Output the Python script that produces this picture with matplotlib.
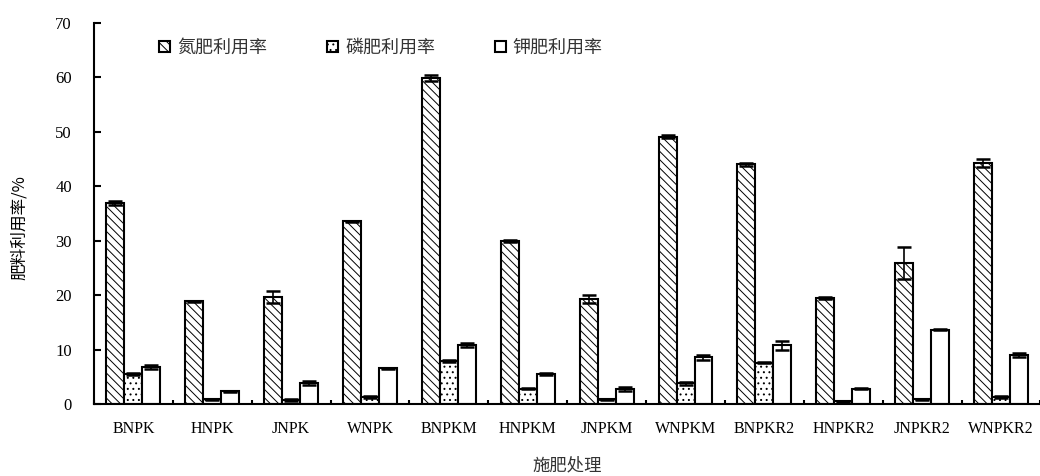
import matplotlib
matplotlib.use("Agg")
import matplotlib.pyplot as plt
import numpy as np

plt.rcParams['font.family'] = ['Noto Sans CJK SC', 'DejaVu Sans']
plt.rcParams['hatch.linewidth'] = 0.7
plt.rcParams['hatch.color'] = '#333333'

treatments = ['BNPK', 'HNPK', 'JNPK', 'WNPK', 'BNPKM', 'HNPKM', 'JNPKM',
              'WNPKM', 'BNPKR2', 'HNPKR2', 'JNPKR2', 'WNPKR2']

# utilisation rates (%) and their errors
n_rate = [36.9, 18.9, 19.7, 33.6, 59.9, 30.0, 19.3, 49.1, 44.0, 19.5, 25.9, 44.3]
n_err = [0.4, 0.1, 1.1, 0.1, 0.5, 0.2, 0.8, 0.3, 0.3, 0.2, 3.0, 0.7]
p_rate = [5.6, 0.9, 0.75, 1.3, 7.9, 2.8, 0.9, 3.8, 7.6, 0.55, 0.9, 1.3]
p_err = [0.2, 0.1, 0.2, 0.2, 0.2, 0.1, 0.1, 0.2, 0.1, 0.1, 0.1, 0.1]
k_rate = [6.8, 2.4, 3.9, 6.6, 10.8, 5.5, 2.8, 8.6, 10.8, 2.8, 13.7, 9.0]
k_err = [0.4, 0.1, 0.3, 0.1, 0.4, 0.2, 0.4, 0.5, 0.8, 0.1, 0.1, 0.3]

labels = ['氮肥利用率', '磷肥利用率', '钾肥利用率']

fig = plt.figure(figsize=(10.4, 4.76), dpi=100)
ax = fig.add_axes([0.0904, 0.151, 0.91, 0.801])

x = np.arange(len(treatments))
w = 0.228
series = [(n_rate, n_err, '\\\\\\\\'), (p_rate, p_err, '...'), (k_rate, k_err, '')]
for i, (vals, errs, hatch) in enumerate(series):
    ax.bar(x + (i - 1) * w, vals, w, color='white', edgecolor='black',
           linewidth=1.5, hatch=hatch, label=labels[i], zorder=2)
    ax.errorbar(x + (i - 1) * w, vals, yerr=errs, fmt='none', ecolor='black',
                elinewidth=1.2, capsize=5, capthick=1.8, zorder=3)

ax.set_xlim(-0.5, len(treatments) - 0.5)
ax.set_ylim(0, 70)
ax.set_yticks(np.arange(0, 71, 10))
ax.set_xticks(x)
ax.set_xticklabels(treatments, family='Liberation Serif', fontsize=11.5)
ax.set_xticks(np.arange(-0.5, len(treatments)), minor=True)
ax.tick_params(axis='x', which='major', length=0, pad=12)
ax.tick_params(axis='x', which='minor', direction='in', length=3, width=1.5)
ax.tick_params(axis='y', direction='in', length=5, width=1.5, pad=16)
for t in ax.get_yticklabels():
    t.set_family('Liberation Serif')
    t.set_fontsize(12)

for s in ['top', 'right']:
    ax.spines[s].set_visible(False)
ax.spines['left'].set_linewidth(1.5)
ax.spines['bottom'].set_linewidth(1.5)

ax.set_ylabel('肥料利用率/%', fontsize=12)
ax.yaxis.set_label_coords(-0.07, 0.462)
ax.set_xlabel('施肥处理', fontsize=12.5, color='#333333')
ax.xaxis.set_label_coords(0.5, -0.137)

leg = ax.legend(loc='upper left', bbox_to_anchor=(0.052, 1.0), ncol=3,
                frameon=False, fontsize=13, handlelength=0.6, handleheight=0.6,
                handletextpad=0.4, columnspacing=3.3)
for t in leg.get_texts():
    t.set_color('#333333')

fig.savefig('out.png', dpi=100)
